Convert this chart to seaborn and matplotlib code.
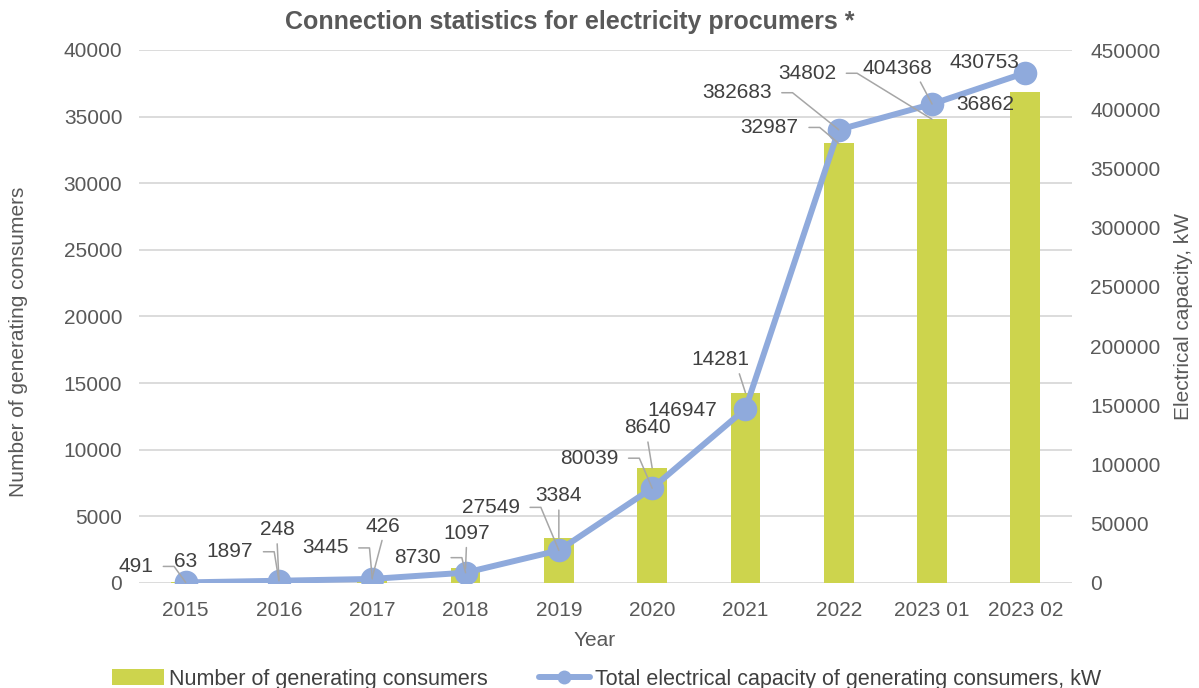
import matplotlib
matplotlib.use("Agg")
import matplotlib.pyplot as plt
import seaborn as sns
import numpy as np
import pandas as pd
from matplotlib.lines import Line2D
from matplotlib.patches import Patch

# ---- data ----
years = ["2015", "2016", "2017", "2018", "2019", "2020", "2021", "2022", "2023 01", "2023 02"]
consumers = [63, 248, 426, 1097, 3384, 8640, 14281, 32987, 34802, 36862]
capacity_kw = [491, 1897, 3445, 8730, 27549, 80039, 146947, 382683, 404368, 430753]

title = "Connection statistics for electricity procumers *"
left_label = "Number of generating consumers"
right_label = "Electrical capacity, kW"
x_label = "Year"
bar_legend = "Number of generating consumers"
line_legend = "Total electrical capacity of generating consumers, kW"
left_ticks = list(range(0, 40001, 5000))
right_ticks = list(range(0, 450001, 50000))

# label layout: (dx, dy in pixels from point, leader type)
bar_label_layout = [(0, 21, None), (-2, 50, "v"), (11, 51, "v"), (1, 35, "v"), (0, 42, "v"),
                    (-5, 40, "v"), (-25, 33, "d"), (-69, 16, "h"), (-125, 46, "h"), (-40, -13, None)]
line_label_layout = [(-50, 16, "h"), (-49, 29, "h"), (-47, 31, "h"), (-48, 15, "h"), (-68, 43, "h"),
                     (-63, 30, "h"), (-63, -2, None), (-102, 37, "h"), (-35, 36, "d"), (-41, 10, None)]

BAR_C = "#CDD44D"
LINE_C = "#8FAADC"
TXT = "#404040"
TICK = "#595959"
GRID = "#D9D9D9"
LEAD = "#A6A6A6"
FS = 15

sns.set_theme(style="white")
plt.rcParams["font.family"] = ["Liberation Sans", "DejaVu Sans"]

df = pd.DataFrame({"year": years, "consumers": consumers, "capacity": capacity_kw})
df["pos"] = np.arange(len(years))

fig = plt.figure(figsize=(11.99, 6.88), dpi=100)
ax = fig.add_axes([139 / 1199, 1 - 583 / 688, 933 / 1199, 533 / 688])
ax2 = ax.twinx()

sns.barplot(data=df, x="year", y="consumers", color=BAR_C, width=0.32, ax=ax,
            saturation=1, edgecolor="none")
sns.lineplot(data=df, x="pos", y="capacity", color=LINE_C, lw=4.3, marker="o",
             markersize=17, markeredgewidth=0, ax=ax2, zorder=3)

ax.set_xlim(-0.5, len(years) - 0.5)
ax.set_ylim(0, 40000)
ax2.set_ylim(0, 450000)
ax.set_yticks(left_ticks)
ax2.set_yticks(right_ticks)
ax.yaxis.grid(True, color=GRID, lw=1.3)
ax.set_axisbelow(True)
for a in (ax, ax2):
    for s in a.spines.values():
        s.set_visible(False)
    a.tick_params(length=0, labelsize=FS, labelcolor=TICK)
ax.tick_params(axis="y", pad=12)
ax.tick_params(axis="x", pad=13)
ax2.tick_params(axis="y", pad=13)

ax.set_xlabel(x_label, fontsize=FS, color=TICK, va="center")
ax.xaxis.set_label_coords(0.488, -0.107)
ax.set_ylabel(left_label, fontsize=FS, color=TICK, va="center")
ax.yaxis.set_label_coords(-0.129, 0.452)
ax2.set_ylabel(right_label, fontsize=FS, color=TICK, va="center")
ax2.yaxis.set_label_coords(1.120, 0.5)

fig.text(0.475, 1 - 22 / 688, title, ha="center", va="center", fontsize=18,
         fontweight="bold", color=TICK)


def annotate(i, val, text, layout, trans):
    dx, dy, kind = layout
    kw = dict(xy=(i, val), xycoords=trans, xytext=(dx, dy), textcoords="offset pixels",
              ha="center", va="center", fontsize=FS, color=TXT, zorder=5)
    base = dict(arrowstyle="-", color=LEAD, lw=1.1, shrinkB=0)
    if kind == "h":
        kw["arrowprops"] = dict(base, shrinkA=5, relpos=(1, 0.5),
                                connectionstyle="arc,angleA=0,armA=21,angleB=0,armB=0,rad=0")
    elif kind == "v":
        kw["arrowprops"] = dict(base, shrinkA=1, relpos=(0.5, 0))
    elif kind == "d":
        kw["arrowprops"] = dict(base, shrinkA=1, relpos=(0.8, 0))
    ax2.annotate(text, **kw)


for i, v in enumerate(consumers):
    annotate(i, v, str(v), bar_label_layout[i], ax.transData)
for i, v in enumerate(capacity_kw):
    annotate(i, v, str(v), line_label_layout[i], ax2.transData)

handles = [Patch(facecolor=BAR_C, edgecolor="none"),
           Line2D([0], [0], color=LINE_C, lw=4.3, marker="o", markersize=10, markeredgewidth=0)]
fig.legend(handles, [bar_legend, line_legend], loc="center", ncol=2,
           bbox_to_anchor=(0.506, 1 - 679 / 688), frameon=False, fontsize=15.5,
           handlelength=2.4, handletextpad=0.22, columnspacing=2.37, labelcolor=TXT)

fig.savefig("out.png", dpi=100)
